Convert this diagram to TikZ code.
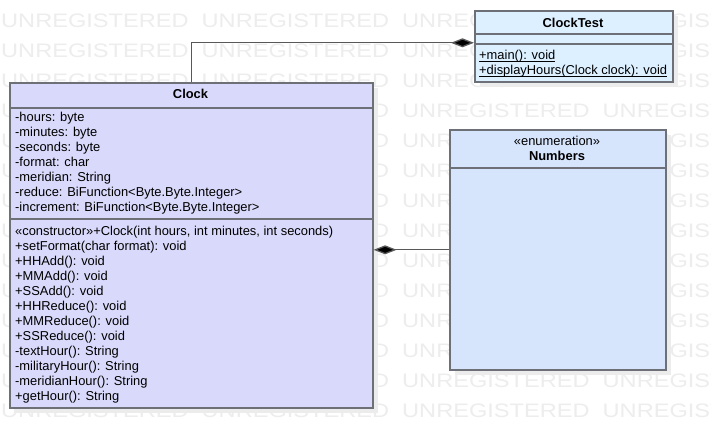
\documentclass[tikz,border=0pt]{standalone}
\usepackage{fontspec}
\setmainfont{Liberation Sans}
\usetikzlibrary{arrows.meta, positioning, calc}
\definecolor{clockfill}{RGB}{217,217,251}
\definecolor{testfill}{RGB}{220,240,255}
\definecolor{enumfill}{RGB}{214,228,252}
\definecolor{edgegray}{RGB}{110,112,120}
\definecolor{linkgray}{RGB}{88,88,88}
\definecolor{shadowgray}{RGB}{236,236,236}
\definecolor{markgray}{RGB}{237,237,237}
\newcommand{\staticop}[1]{\underline{\smash{#1}}}

\begin{document}
\begin{tikzpicture}[x=1pt, y=-1pt, font=\fontsize{12.9}{15}\selectfont,
  classbox/.style={draw=edgegray, line width=1.6pt, inner sep=0pt, anchor=north west},
  shade/.style={fill=shadowgray, inner sep=0pt, anchor=north west},
  divider/.style={draw=edgegray, line width=1.4pt},
  member/.style={anchor=base west, inner sep=0pt},
  title/.style={anchor=base, inner sep=0pt, font=\fontsize{12.9}{15}\selectfont\bfseries},
  stereo/.style={anchor=base, inner sep=0pt},
  watermark/.style={anchor=base west, inner sep=0pt, text=markgray, font=\fontsize{19.5}{20}\selectfont},
  composite/.style={draw=linkgray, line width=1.3pt, -{Diamond[length=23pt, width=9pt, fill=black]}}]
  \useasboundingbox (0,0) rectangle (711,447);
  \fill[white] (0,0) rectangle (711,447);

  % background stamp
  \foreach \r in {0,...,13}
    \foreach \c in {0,...,3}
      \node[watermark] (mark-\r-\c) at (1+200.5*\c, 27+30*\r) {\scalebox{1.21}[1]{UNREGISTERED}};

  % Clock
  \node[shade, minimum width=363pt, minimum height=325pt] (clockshade) at (15,88) {};
  \node[classbox, fill=clockfill, minimum width=363pt, minimum height=325pt] (clock) at (9,82) {};
  \draw[divider] (9,108) -- (372,108);
  \draw[divider] (9,219) -- (372,219);
  \node[title] (clocktitle) at (190.5,98.6) {Clock};
  \foreach [count=\i from 0] \txt in {-hours: byte, -minutes: byte, -seconds: byte,
      -format: char, -meridian: String, -reduce: BiFunction<Byte.Byte.Integer>,
      -increment: BiFunction<Byte.Byte.Integer>}
    \node[member] (clockfield\i) at (15,121.7+15*\i) {\txt};
  \foreach [count=\i from 0] \txt in {{«constructor»+Clock(int hours, int minutes, int seconds)},
      +setFormat(char format): void, +HHAdd(): void, +MMAdd(): void, +SSAdd(): void,
      +HHReduce(): void, +MMReduce(): void, +SSReduce(): void, -textHour(): String,
      -militaryHour(): String, -meridianHour(): String, +getHour(): String}
    \node[member] (clockop\i) at (15,235.8+14.93*\i) {\txt};

  % ClockTest
  \node[shade, minimum width=198pt, minimum height=71pt] (testshade) at (480,16) {};
  \node[classbox, fill=testfill, minimum width=198pt, minimum height=71pt] (clocktest) at (474,10) {};
  \draw[divider] (474,34) -- (672,34);
  \draw[divider] (474,44) -- (672,44);
  \node[title] (testtitle) at (573,27) {ClockTest};
  \node[member] (testop0) at (479,59.3) {\staticop{+main(): void}};
  \node[member] (testop1) at (479,74.3) {\staticop{+displayHours(Clock clock): void}};

  % Numbers
  \node[shade, minimum width=216pt, minimum height=240pt] (numshade) at (455,135) {};
  \node[classbox, fill=enumfill, minimum width=216pt, minimum height=240pt] (numbers) at (449,129) {};
  \draw[divider] (449,168) -- (665,168);
  \node[stereo] (numstereo) at (557,145) {«enumeration»};
  \node[title] (numtitle) at (557,160) {Numbers};

  % links
  \draw[composite] (clock.north) |- ([yshift=3.5pt]clocktest.west);
  \draw[composite] (numbers.west) -- (numbers.west -| clock.east);
\end{tikzpicture}
\end{document}
